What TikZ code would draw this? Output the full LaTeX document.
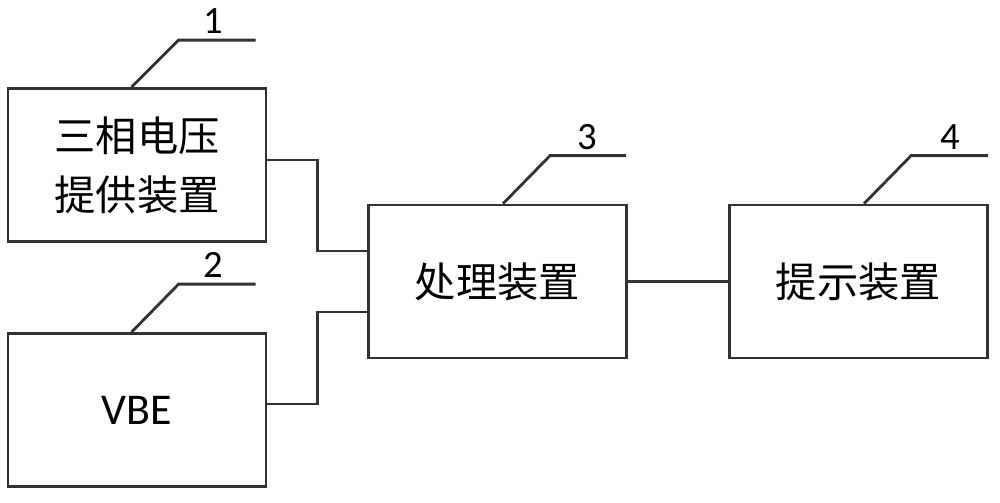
\documentclass[tikz,border=0pt]{standalone}
\usepackage{fontspec}
\setmainfont{Carlito}
\newfontfamily\cjk{Noto Sans CJK SC}
\begin{document}
\begin{tikzpicture}[x=0.02cm,y=-0.02cm,
  line/.style={draw=black!80, line width=1.6pt},
  blk/.style={line, rectangle, inner sep=0pt, minimum width=5.16cm, minimum height=3.06cm, font=\cjk\fontsize{23.5}{33.5}\selectfont, align=center},
  num/.style={font=\fontsize{22}{24}\selectfont, inner sep=0pt, anchor=south},
  lead/.style={line}
]
\useasboundingbox (0,0) rectangle (1000,503);
\node[blk] (b1) at (137,165) {三相电压\\提供装置};
\node[blk, font=\fontsize{25}{28}\selectfont] (b2) at (137,410) {VBE};
\node[blk] (b3) at (497.5,281.5) {处理装置};
\node[blk] (b4) at (858.5,281.5) {提示装置};
% leaders
\coordinate (k1) at ([xshift=2.5cm]b1.north west);
\coordinate (e1) at ([xshift=0.94cm,yshift=0.94cm]k1);
\coordinate (f1) at ([xshift=1.54cm]e1);
\draw[lead] (k1) -- (e1) -- (f1);
\node[num] (n1) at ([xshift=0.7cm,yshift=0.12cm]e1) {1};
\coordinate (k2) at ([xshift=2.5cm]b2.north west);
\coordinate (e2) at ([xshift=0.94cm,yshift=0.96cm]k2);
\coordinate (f2) at ([xshift=1.54cm]e2);
\draw[lead] (k2) -- (e2) -- (f2);
\node[num] (n2) at ([xshift=0.7cm,yshift=0.12cm]e2) {2};
\coordinate (k3) at ([xshift=2.72cm]b3.north west);
\coordinate (e3) at ([xshift=0.94cm,yshift=0.96cm]k3);
\coordinate (f3) at ([xshift=1.52cm]e3);
\draw[lead] (k3) -- (e3) -- (f3);
\node[num] (n3) at ([xshift=0.74cm,yshift=0.12cm]e3) {3};
\coordinate (k4) at ([xshift=2.72cm]b4.north west);
\coordinate (e4) at ([xshift=0.94cm,yshift=0.96cm]k4);
\coordinate (f4) at ([xshift=1.54cm]e4);
\draw[lead] (k4) -- (e4) -- (f4);
\node[num] (n4) at ([xshift=0.78cm,yshift=0.12cm]e4) {4};
% connectors
\draw[line] ([yshift=0.1cm]b1.east) -- ++(1cm,0) |- ([yshift=0.61cm]b3.west);
\draw[line] ([yshift=0.12cm]b2.east) -- ++(1cm,0) |- ([yshift=-0.61cm]b3.west);
\draw[line] (b3.east) -- (b4.west);
\end{tikzpicture}
\end{document}
